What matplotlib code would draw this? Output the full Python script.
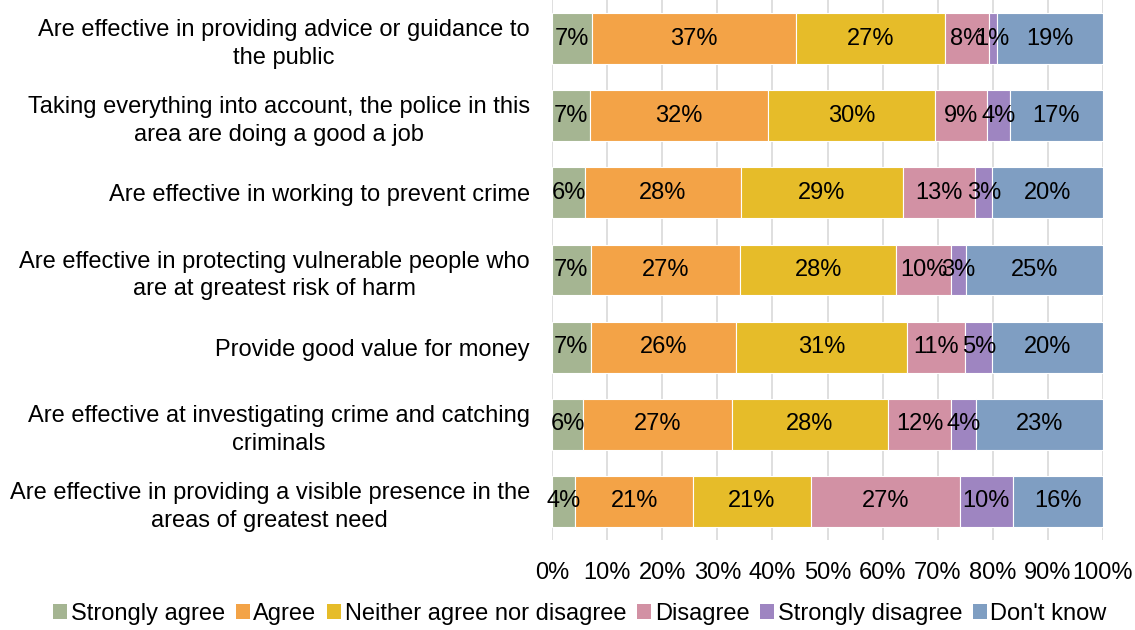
import matplotlib.pyplot as plt
import numpy as np
from matplotlib.patches import Patch

plt.rcParams['font.family'] = ['Liberation Sans', 'DejaVu Sans']

categories = [
    'Are effective in providing advice or guidance to\nthe public',
    'Taking everything into account, the police in this\narea are doing a good a job',
    'Are effective in working to prevent crime',
    'Are effective in protecting vulnerable people who\nare at greatest risk of harm',
    'Provide good value for money',
    'Are effective at investigating crime and catching\ncriminals',
    'Are effective in providing a visible presence in the\nareas of greatest need',
]
series = ['Strongly agree', 'Agree', 'Neither agree nor disagree',
          'Disagree', 'Strongly disagree', "Don't know"]

strongly_agree = [7.3, 6.9, 6.0, 7.0, 7.0, 5.7, 4.2]
agree          = [37.0, 32.3, 28.3, 27.2, 26.4, 27.0, 21.4]
neither        = [27.0, 30.3, 29.4, 28.3, 31.0, 28.2, 21.4]
disagree       = [8.0, 9.4, 13.1, 10.0, 10.6, 11.6, 27.0]
strongly_dis   = [1.4, 4.2, 3.1, 2.6, 4.9, 4.4, 9.6]
dont_know      = [19.3, 16.9, 20.1, 24.9, 20.1, 23.1, 16.4]

colors = ['#A5B592', '#F3A347', '#E6BC29', '#D291A4', '#9E85C1', '#7F9EC2']

data = [strongly_agree, agree, neither, disagree, strongly_dis, dont_know]
fs = 17

fig = plt.figure(figsize=(11.35, 6.3), dpi=100)
ax = fig.add_axes([552/1135, 90/630, (1103-552)/1135, 540/630])

y = np.arange(len(categories))
left = np.zeros(len(categories))
for vals, col, name in zip(data, colors, series):
    vals = np.array(vals)
    ax.barh(y, vals, left=left, height=0.66, color=col, edgecolor='white',
            linewidth=0.8, label=name, zorder=2)
    for yi, l, v in zip(y, left, vals):
        ax.text(l + v / 2, yi, '{:d}%'.format(int(round(v))), ha='center',
                va='center', fontsize=fs, color='black', zorder=3)
    left += vals

ax.set_xlim(0, 100)
ax.set_ylim(len(categories) - 0.5, -0.5)
ax.set_xticks(np.arange(0, 101, 10))
ax.set_xticklabels(['{}%'.format(t) for t in range(0, 101, 10)], fontsize=fs)
ax.set_yticks(y)
ax.set_yticklabels(categories, fontsize=fs, multialignment='center',
                   linespacing=1.35)
ax.tick_params(axis='both', length=0)
ax.tick_params(axis='y', pad=16)
ax.tick_params(axis='x', pad=16)
ax.grid(axis='x', color='#D9D9D9', linewidth=1.2, zorder=0)
for s in ax.spines.values():
    s.set_visible(False)

handles = [Patch(facecolor=c, edgecolor='none') for c in colors]
fig.legend(handles, series, loc='lower center', bbox_to_anchor=(0.511, -0.026),
           ncol=6, frameon=False, fontsize=fs, handlelength=0.6,
           handleheight=0.6, handletextpad=0.15, columnspacing=0.45)

fig.savefig('out.png', dpi=100)
